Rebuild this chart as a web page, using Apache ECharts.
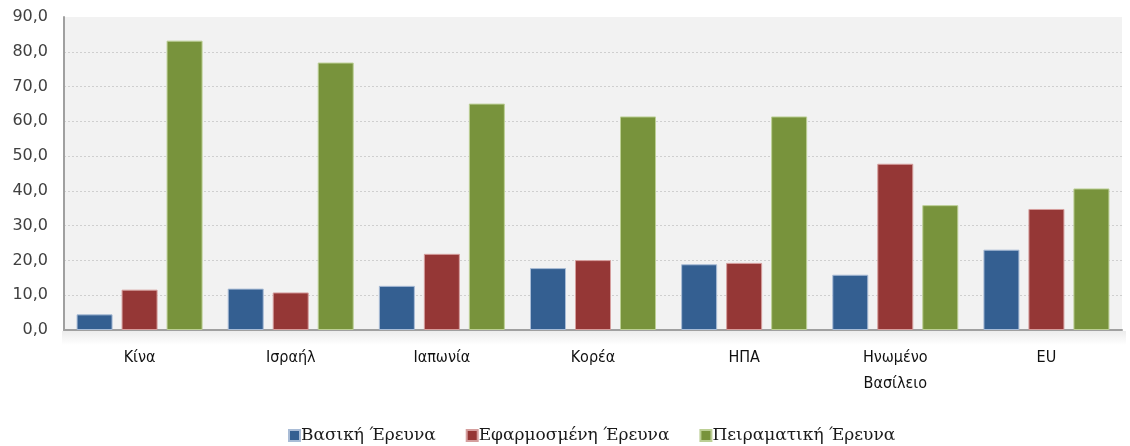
<!DOCTYPE html>
<html>
<head>
<meta charset="utf-8">
<script src="https://cdn.jsdelivr.net/npm/echarts@6/dist/echarts.min.js"></script>
<style>html,body{margin:0;padding:0;background:#fff;}#c{width:1130px;height:446px;}</style>
</head>
<body>
<div id="c"></div>
<script>
const categories = ['Κίνα', 'Ισραήλ', 'Ιαπωνία', 'Κορέα', 'ΗΠΑ', 'Ηνωμένο\nΒασίλειο', 'EU'];
const seriesNames = ['Βασική Έρευνα', 'Εφαρμοσμένη Έρευνα', 'Πειραματική Έρευνα'];
const basic = [4.5, 11.9, 12.7, 17.8, 18.9, 15.9, 23.1];
const applied = [11.6, 10.8, 21.9, 20.1, 19.3, 47.8, 34.8];
const experimental = [83.2, 76.9, 65.1, 61.4, 61.4, 35.9, 40.7];
const yTicks = [0, 10, 20, 30, 40, 50, 60, 70, 80, 90];

const chart = echarts.init(document.getElementById('c'));
const gridColors = yTicks.map((t, i) => i === yTicks.length - 1 ? 'rgba(0,0,0,0)' : '#cfcfcf');
function bar(name, data, color, border) {
  return {
    name, type: 'bar', data, barWidth: 36, barGap: '25%',
    itemStyle: { color, borderColor: border, borderWidth: 1 },
    emphasis: { disabled: true }
  };
}
chart.setOption({
  animation: false,
  grid: { left: 64, right: 8, top: 17, bottom: 116, show: true, backgroundColor: '#f2f2f2', borderWidth: 0 },
  graphic: [{
    type: 'rect', left: 62, top: 331, shape: { width: 1064, height: 14 }, silent: true, z: -1,
    style: { fill: new echarts.graphic.LinearGradient(0, 0, 0, 1, [{ offset: 0, color: '#ececec' }, { offset: 1, color: '#ffffff' }]) }
  }],
  xAxis: {
    type: 'category', data: categories,
    axisLine: { lineStyle: { color: '#a0a0a0', width: 2 } },
    axisTick: { show: false },
    axisLabel: { color: '#111', fontFamily: 'DejaVu Sans Condensed', fontSize: 16, margin: 15, lineHeight: 26 }
  },
  yAxis: {
    type: 'value', min: 0, max: 90, interval: 10,
    axisLine: { show: true, lineStyle: { color: '#a0a0a0', width: 2 } },
    axisTick: { show: false },
    splitLine: { show: true, lineStyle: { color: gridColors, type: [2, 2], width: 1 } },
    axisLabel: {
      color: '#404040', fontFamily: 'DejaVu Sans', fontSize: 16, margin: 16,
      formatter: v => v.toFixed(1).replace('.', ',')
    }
  },
  legend: {
    bottom: -3, left: 283, itemWidth: 11, itemHeight: 11, itemGap: 30, icon: 'rect',
    textStyle: { fontFamily: 'DejaVu Serif', fontSize: 17, color: '#1a1a1a', padding: [0, 0, 0, -4] },
    data: seriesNames
  },
  series: [
    bar(seriesNames[0], basic, '#345f91', '#a9bcd6'),
    bar(seriesNames[1], applied, '#953736', '#d59e9d'),
    bar(seriesNames[2], experimental, '#78933c', '#bccf95')
  ]
});
</script>
</body>
</html>
